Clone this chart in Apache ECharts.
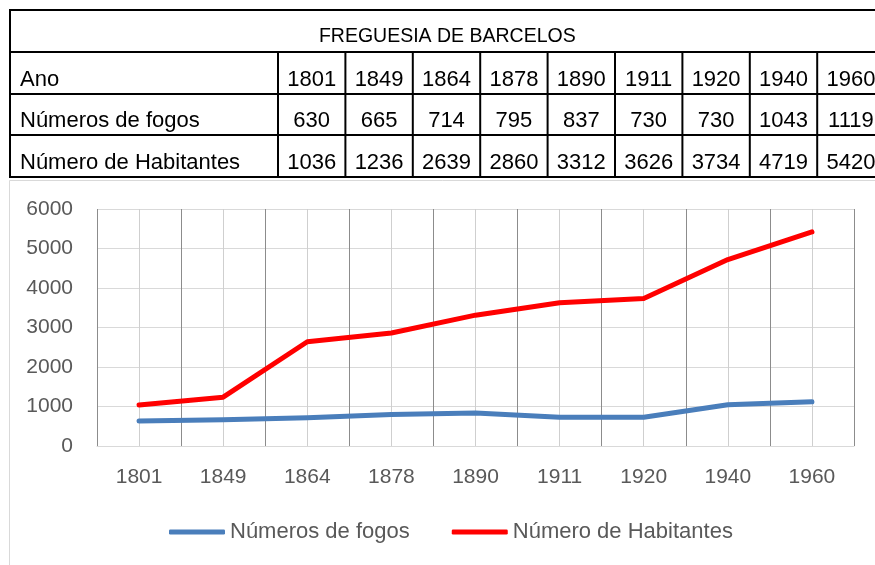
<!DOCTYPE html>
<html><head><meta charset="utf-8">
<script src="https://cdn.jsdelivr.net/npm/echarts@6/dist/echarts.min.js"></script>
<style>html,body{margin:0;padding:0;background:#fff}#c{width:875px;height:565px}</style>
</head><body><div id="c"></div>
<script>
// ---- data ----
const tableTitle = 'FREGUESIA DE BARCELOS';
const rowLabels = ['Ano', 'Números de fogos', 'Número de Habitantes'];
const years = ['1801', '1849', '1864', '1878', '1890', '1911', '1920', '1940', '1960'];
const fogos = [630, 665, 714, 795, 837, 730, 730, 1043, 1119];
const habitantes = [1036, 1236, 2639, 2860, 3312, 3626, 3734, 4719, 5420];
const seriesNames = ['Números de fogos', 'Número de Habitantes'];
const yMin = 0, yMax = 6000, yStep = 1000;

// ---- layout / style ----
const FONT = '"Liberation Sans", Arial, sans-serif';
const tL = 10, tR = 884.6, rowsY = [10, 52, 94, 135, 177], c0 = 278;
const cw = (tR - c0) / years.length;
const g = [];
function line(x1, y1, x2, y2) {
  g.push({ type: 'line', silent: true, shape: { x1, y1, x2, y2 }, style: { stroke: '#000', lineWidth: 2 } });
}
function txt(s, x, y, align, size) {
  g.push({ type: 'text', silent: true, x, y,
    style: { text: s, fill: '#000', font: size + 'px ' + FONT, textAlign: align, textVerticalAlign: 'middle', align: align, verticalAlign: 'middle' } });
}
// chart area border
g.push({ type: 'rect', silent: true, z: -10, shape: { x: 9.5, y: 180.5, width: 900, height: 500 }, style: { fill: 'none', stroke: '#d9d9d9', lineWidth: 1 } });
// table grid
rowsY.forEach(y => line(tL - 1, y, tR + 1, y));
line(tL, rowsY[0], tL, rowsY[4]);
line(tR, rowsY[0], tR, rowsY[4]);
for (let i = 0; i <= years.length; i++) {
  const x = c0 + cw * i;
  line(x, rowsY[1], x, rowsY[4]);
}
// table text
txt(tableTitle, (tL + tR) / 2, rowsY[1] - 15, 'center', 19.5);
const rows = [years, fogos, habitantes];
rows.forEach((vals, r) => {
  const yMid = rowsY[r + 2] - 14;
  txt(rowLabels[r], 20, yMid, 'left', 22);
  vals.forEach((v, i) => txt(String(v), c0 + cw * (i + 0.5), yMid, 'center', 22));
});

const chart = echarts.init(document.getElementById('c'), null, { renderer: 'canvas' });
chart.setOption({
  animation: false,
  backgroundColor: '#fff',
  textStyle: { fontFamily: FONT },
  graphic: { elements: g },
  grid: { left: 97, right: 21, top: 209, bottom: 119, containLabel: false },
  legend: {
    data: seriesNames, left: 164, top: 516, icon: 'roundRect', itemWidth: 56, itemHeight: 5, itemGap: 42,
    textStyle: { fontSize: 22, color: '#595959', fontFamily: FONT }
  },
  xAxis: [
    {
      type: 'category', data: years, boundaryGap: true,
      axisLine: { show: true, lineStyle: { color: '#d9d9d9', width: 1 } },
      axisTick: { show: false },
      axisLabel: { color: '#595959', fontSize: 21, margin: 21, fontFamily: FONT },
      splitLine: { show: false }
    },
    {
      type: 'value', min: 0, max: years.length * 2, interval: 1, position: 'top',
      axisLine: { show: false }, axisTick: { show: false }, axisLabel: { show: false },
      splitLine: { show: true, lineStyle: { color: ['#8c8c8c', '#cfcfcf'], width: 1 } }
    }
  ],
  yAxis: {
    type: 'value', min: yMin, max: yMax, interval: yStep,
    axisLine: { show: false }, axisTick: { show: false },
    axisLabel: { color: '#595959', fontSize: 21, margin: 24, fontFamily: FONT, formatter: v => String(v) },
    splitLine: { show: true, lineStyle: { color: '#d9d9d9', width: 1 } }
  },
  series: [
    { name: seriesNames[0], type: 'line', data: fogos, xAxisIndex: 0, symbol: 'none', showSymbol: false,
      itemStyle: { color: '#4a7ebb' }, lineStyle: { color: '#4a7ebb', width: 5, cap: 'round', join: 'round' } },
    { name: seriesNames[1], type: 'line', data: habitantes, xAxisIndex: 0, symbol: 'none', showSymbol: false,
      itemStyle: { color: '#ff0000' }, lineStyle: { color: '#ff0000', width: 5, cap: 'round', join: 'round' } }
  ]
});
</script>
</body></html>
